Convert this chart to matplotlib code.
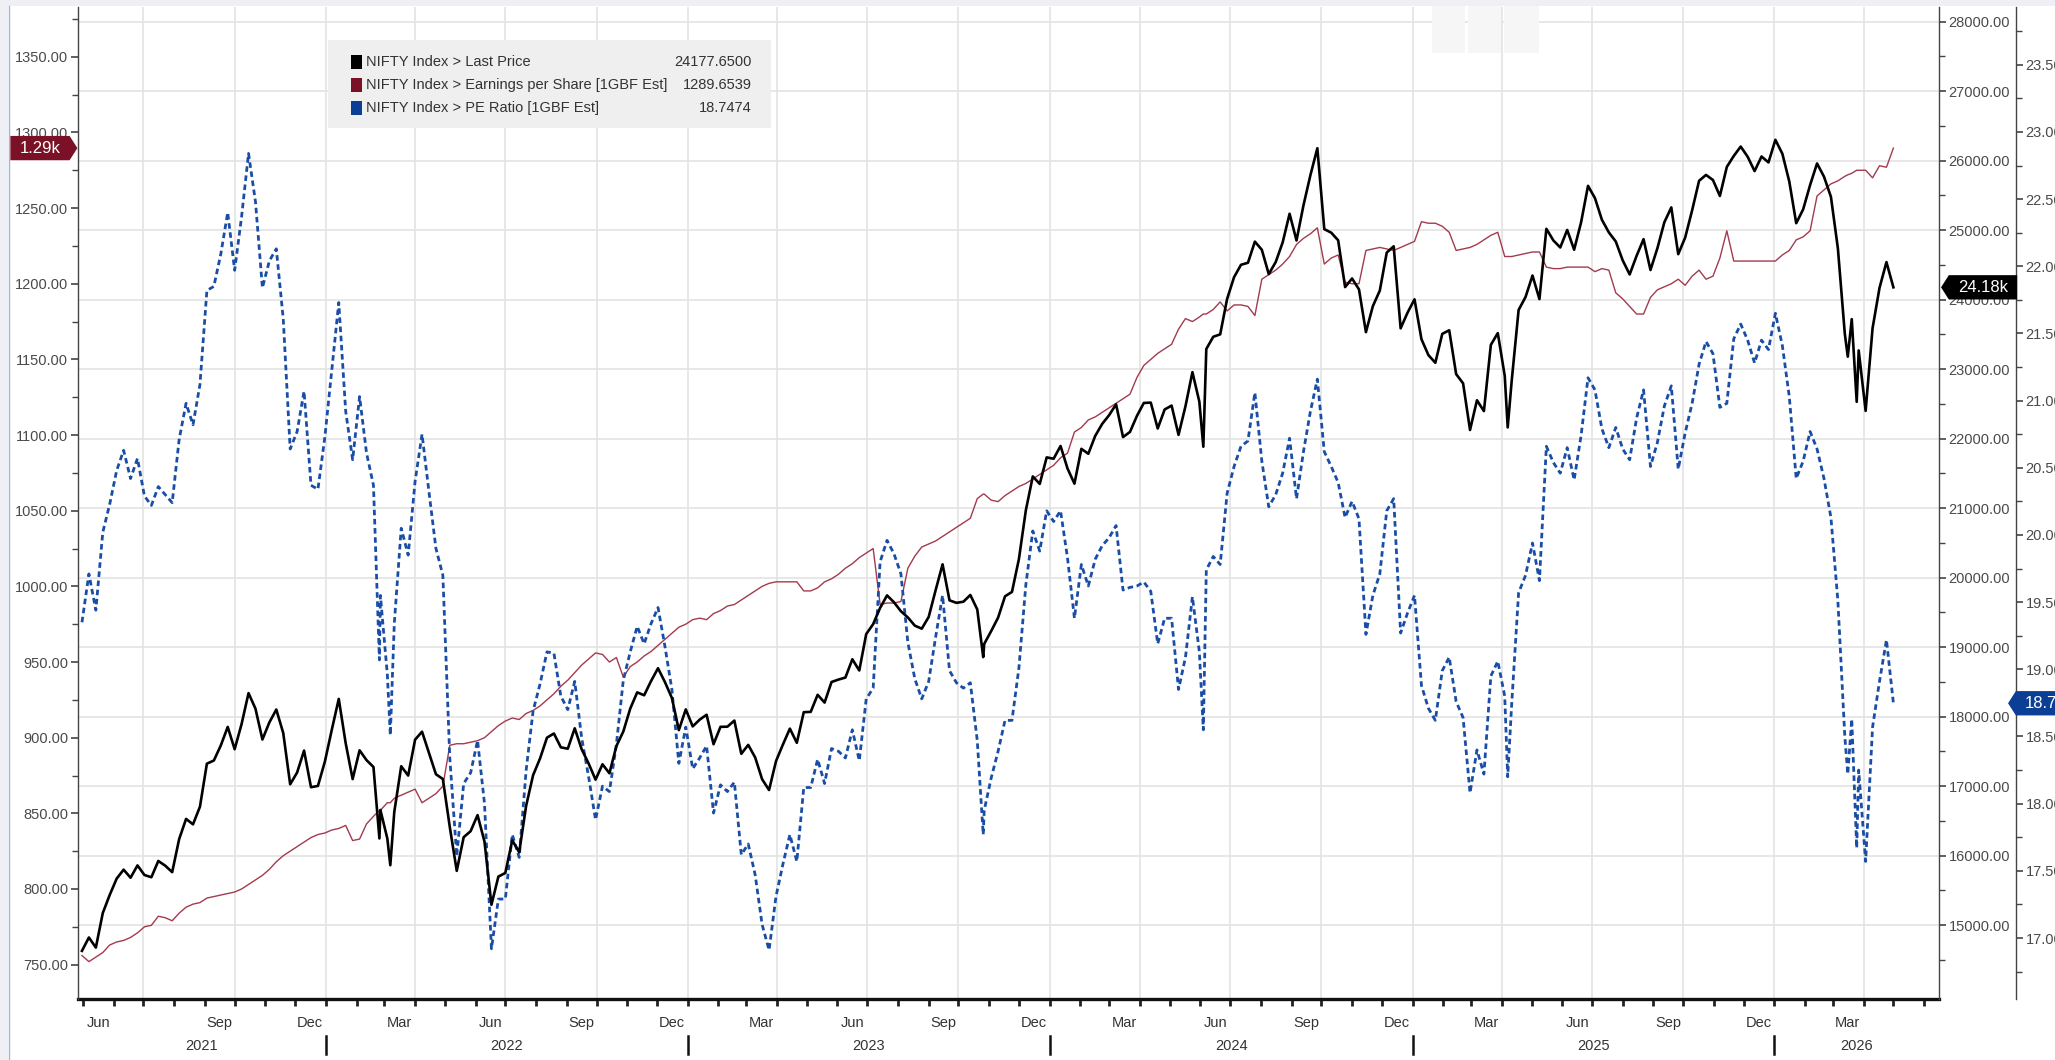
import numpy as np
import pandas as pd
import matplotlib
matplotlib.use("Agg")
import matplotlib.pyplot as plt
import matplotlib.dates as mdates
import matplotlib.ticker as mticker
from matplotlib import font_manager as fm
from matplotlib.patches import Rectangle
from matplotlib.path import Path
from matplotlib.lines import Line2D
from matplotlib.transforms import blended_transform_factory

# ---------------------------------------------------------------- data
week_start = "2021-04-30"   # weekly (Friday) observations

price_weekly = [
    14631, 14823, 14678, 15175, 15436, 15670, 15799, 15683, 15860, 15722,
    15690, 15924, 15856, 15763, 16238, 16529, 16451, 16705, 17324, 17369,
    17585, 17853, 17532, 17895, 18339, 18115, 17672, 17917, 18103, 17765,
    17027, 17197, 17512, 16985, 17004, 17354, 17813, 18256, 17617, 17102,
    17516, 17375, 17276, 16658, 16246, 16630, 17287, 17153, 17670, 17784,
    17476, 17172, 17103, 16411, 15782, 16266, 16353, 16584, 16202, 15294,
    15699, 15752, 16221, 16049, 16719, 17158, 17398, 17698, 17758, 17559,
    17539, 17833, 17531, 17327, 17094, 17315, 17186, 17576, 17787, 18117,
    18350, 18308, 18513, 18697, 18497, 18270, 17807, 18105, 17860, 17957,
    18028, 17604, 17854, 17856, 17944, 17466, 17594, 17413, 17100, 16945,
    17360, 17600, 17828, 17624, 18065, 18069, 18315, 18203, 18499, 18534,
    18563, 18826, 18665, 19189, 19332, 19565, 19745, 19646, 19517, 19428,
    19310, 19266, 19435, 19820, 20192, 19674, 19638, 19654, 19751, 19543,
    19047, 19231, 19425, 19732, 19795, 20268, 20970, 21457, 21349, 21731,
    21711, 21895, 21572, 21353, 21854, 21783, 22041, 22213, 22339, 22494,
    22023, 22097, 22327, 22514, 22519, 22147, 22420, 22476, 22055, 22467,
    22957, 22531, 23290, 23466, 23501, 24011, 24324, 24502, 24531, 24835,
    24718, 24368, 24541, 24823, 25236, 24852, 25357, 25791, 26179, 25015,
    24964, 24854, 24181, 24305, 24148, 23533, 23907, 24131, 24678, 24768,
    23588, 23814, 24005, 23432, 23203, 23092, 23508, 23560, 22929, 22796,
    22125, 22553, 22397, 23350, 23519, 22904, 22829, 23852, 24039, 24347,
    24008, 25020, 24853, 24751, 25003, 24719, 25112, 25638, 25461, 25150,
    24968, 24837, 24565, 24363, 24631, 24870, 24427, 24741, 25114, 25327,
    24655, 24894, 25285, 25710, 25795, 25722, 25492, 25910, 26068, 26203,
    26057, 25850, 26060, 25975, 26300, 26100, 25700, 25100, 25300, 25650,
    25960, 25770, 25480, 24740, 23510, 23720, 23270, 22400, 23590, 24170,
    24540, 24177.65,
]

eps_weekly = [
    756, 752, 755, 758, 763, 765, 766, 768, 771, 775,
    776, 782, 781, 779, 784, 788, 790, 791, 794, 795,
    796, 797, 798, 800, 803, 806, 809, 813, 818, 822,
    825, 828, 831, 834, 836, 837, 839, 840, 842, 832,
    833, 843, 848, 852, 857, 860, 862, 864, 866, 857,
    860, 863, 868, 895, 896, 896, 897, 898, 900, 904,
    908, 911, 913, 912, 916, 918, 921, 925, 929, 934,
    938, 943, 948, 952, 956, 955, 950, 953, 940, 947,
    950, 954, 957, 961, 965, 969, 973, 975, 978, 979,
    978, 982, 984, 987, 988, 991, 994, 997, 1000, 1002,
    1003, 1003, 1003, 1003, 997, 997, 999, 1003, 1005, 1008,
    1012, 1015, 1019, 1022, 1025, 988, 989, 989, 990, 1012,
    1020, 1026, 1028, 1030, 1033, 1036, 1039, 1042, 1045, 1058,
    1061, 1057, 1056, 1060, 1063, 1066, 1068, 1071, 1074, 1077,
    1080, 1085, 1088, 1102, 1105, 1110, 1112, 1115, 1118, 1121,
    1124, 1127, 1138, 1146, 1150, 1154, 1157, 1160, 1170, 1177,
    1175, 1178, 1180, 1183, 1188, 1182, 1186, 1186, 1185, 1179,
    1203, 1206, 1209, 1213, 1218, 1226, 1230, 1233, 1237, 1213,
    1217, 1219, 1201, 1200, 1200, 1222, 1223, 1224, 1223, 1222,
    1224, 1226, 1228, 1241, 1240, 1240, 1238, 1234, 1222, 1223,
    1224, 1226, 1229, 1232, 1234, 1218, 1218, 1219, 1220, 1221,
    1221, 1211, 1210, 1210, 1211, 1211, 1211, 1211, 1208, 1210,
    1209, 1194, 1190, 1185, 1180, 1180, 1191, 1196, 1198, 1200,
    1203, 1199, 1205, 1209, 1203, 1205, 1217, 1235, 1215, 1215,
    1215, 1215, 1215, 1215, 1215, 1219, 1222, 1229, 1231, 1235,
    1258, 1262, 1266, 1268, 1271, 1273, 1275, 1275, 1270, 1278,
    1277, 1289.6539,
]

pe_weekly = [
    19.35, 19.71, 19.44, 20.02, 20.23, 20.48, 20.63, 20.42, 20.57, 20.29,
    20.22, 20.36, 20.30, 20.24, 20.71, 20.98, 20.82, 21.12, 21.82, 21.85,
    22.09, 22.40, 21.97, 22.37, 22.84, 22.48, 21.84, 22.04, 22.13, 21.61,
    20.64, 20.77, 21.07, 20.37, 20.34, 20.73, 21.23, 21.73, 20.92, 20.56,
    21.03, 20.61, 20.37, 19.55, 18.96, 19.34, 20.05, 19.85, 20.40, 20.75,
    20.32, 19.90, 19.70, 18.34, 17.61, 18.15, 18.23, 18.47, 18.00, 16.92,
    17.29, 17.29, 17.77, 17.60, 18.25, 18.69, 18.89, 19.13, 19.12, 18.80,
    18.70, 18.91, 18.49, 18.20, 17.88, 18.13, 18.09, 18.44, 18.92, 19.13,
    19.32, 19.19, 19.34, 19.46, 19.17, 18.85, 18.30, 18.57, 18.26, 18.34,
    18.43, 17.93, 18.14, 18.09, 18.16, 17.62, 17.70, 17.47, 17.10, 16.91,
    17.31, 17.55, 17.77, 17.57, 18.12, 18.12, 18.33, 18.15, 18.41, 18.39,
    18.34, 18.55, 18.32, 18.78, 18.86, 19.80, 19.96, 19.86, 19.71, 19.20,
    18.93, 18.78, 18.91, 19.24, 19.55, 18.99, 18.90, 18.86, 18.90, 18.47,
    17.95, 18.19, 18.39, 18.62, 18.62, 19.01, 19.63, 20.03, 19.88, 20.18,
    20.10, 20.18, 19.83, 19.38, 19.78, 19.62, 19.82, 19.92, 19.98, 20.07,
    19.59, 19.61, 19.62, 19.65, 19.58, 19.19, 19.38, 19.38, 18.85, 19.09,
    19.54, 19.13, 19.74, 19.84, 19.78, 20.31, 20.51, 20.66, 20.70, 21.06,
    20.55, 20.21, 20.30, 20.46, 20.72, 20.27, 20.62, 20.92, 21.16, 20.62,
    20.51, 20.39, 20.13, 20.25, 20.12, 19.26, 19.55, 19.71, 20.18, 20.27,
    19.27, 19.42, 19.55, 18.88, 18.71, 18.62, 18.99, 19.09, 18.76, 18.64,
    18.08, 18.40, 18.22, 18.95, 19.06, 18.80, 18.74, 19.57, 19.70, 19.94,
    19.66, 20.66, 20.54, 20.46, 20.65, 20.41, 20.74, 21.17, 21.08, 20.79,
    20.65, 20.80, 20.64, 20.56, 20.87, 21.08, 20.51, 20.69, 20.96, 21.11,
    20.49, 20.76, 20.98, 21.27, 21.44, 21.35, 20.95, 20.98, 21.46, 21.57,
    21.45, 21.28, 21.45, 21.38, 21.65, 21.41, 21.03, 20.42, 20.55, 20.77,
    20.64, 20.42, 20.13, 19.51, 18.50, 18.63, 18.25, 17.57, 18.57, 18.91,
    19.22, 18.7474,
]

# a few intra-week extremes visible on the daily chart
extra_dates = ["2022-02-24", "2022-03-07", "2023-10-26", "2024-06-04",
               "2025-04-07", "2026-03-16", "2026-03-25"]
price_extra = [16248, 15863, 18857, 21884, 22162, 23180, 22530]
eps_extra = [852, 857, 1061, 1180, 1218, 1272, 1275]
pe_extra = [19.07, 18.51, 17.77, 18.55, 18.20, 18.22, 17.67]

series_names = ["NIFTY Index > Last Price",
                "NIFTY Index > Earnings per Share [1GBF Est]",
                "NIFTY Index > PE Ratio [1GBF Est]"]
price_ticks = list(range(15000, 28001, 1000))
eps_ticks = list(range(750, 1351, 50))
pe_ticks = [17.0, 17.5, 18.0, 18.5, 19.0, 19.5, 20.0, 20.5, 21.0, 21.5,
            22.0, 22.5, 23.0, 23.5]
month_label_names = ["Jun", "Sep", "Dec", "Mar", "Jun", "Sep", "Dec", "Mar",
                     "Jun", "Sep", "Dec", "Mar", "Jun", "Sep", "Dec", "Mar",
                     "Jun", "Sep", "Dec", "Mar"]
month_label_dates = ["2021-05-17", "2021-09-16", "2021-12-16", "2022-03-16",
                     "2022-06-16", "2022-09-16", "2022-12-16", "2023-03-16",
                     "2023-06-16", "2023-09-16", "2023-12-16", "2024-03-16",
                     "2024-06-16", "2024-09-16", "2024-12-16", "2025-03-16",
                     "2025-06-16", "2025-09-16", "2025-12-16", "2026-03-16"]
years = [2021, 2022, 2023, 2024, 2025, 2026]

# ---------------------------------------------------------------- table
dates_w = pd.date_range(week_start, periods=len(price_weekly), freq="W-FRI")
df = pd.DataFrame({
    "date": list(dates_w) + list(pd.to_datetime(extra_dates)),
    "price": price_weekly + price_extra,
    "eps": eps_weekly + eps_extra,
    "pe": pe_weekly + pe_extra,
}).sort_values("date").reset_index(drop=True)

# ---------------------------------------------------------------- fonts
_names = {f.name for f in fm.fontManager.ttflist}
if "Liberation Sans Narrow" in _names:
    FONT, FS = "Liberation Sans Narrow", 12.5
else:
    FONT, FS = "Liberation Sans", 10.5
plt.rcParams["font.family"] = [FONT, "DejaVu Sans"]

W, H = 2055, 1060
def fx(px):
    return px / W
def fy(py):
    return 1 - py / H

BLACK = "#000000"
RED = "#a33a4d"
RED_TAG = "#7b1126"
BLUE = "#1a4ea6"
BLUE_TAG = "#0b3f96"
GRID = "#e3e3e3"
TXT = "#4a4a4a"

fig = plt.figure(figsize=(W / 100, H / 100), dpi=100)
fig.patch.set_facecolor("white")

ax_bg = fig.add_axes([fx(78), fy(999), fx(1939) - fx(78), fy(7) - fy(999)])
ax_eps = ax_bg.twinx()
ax_pe = ax_bg.twinx()
ax_px = ax_bg.twinx()

xmin, xmax = pd.Timestamp("2021-04-26"), pd.Timestamp("2026-06-16")
PRICE_LIM = (13938, 28211)
EPS_LIM = (727.3, 1382.9)
PE_LIM = (16.546, 23.93)

for a in (ax_bg, ax_eps, ax_pe, ax_px):
    a.set_xlim(xmin, xmax)
    for s in a.spines.values():
        s.set_visible(False)

# background axes: grid + date axis
ax_bg.set_ylim(*PRICE_LIM)
ax_bg.set_yticks(price_ticks)
ax_bg.tick_params(axis="y", left=False, right=False, labelleft=False, labelright=False)
ax_bg.yaxis.grid(True, color=GRID, lw=1.2)
ax_bg.xaxis.set_major_locator(mdates.MonthLocator())
ax_bg.xaxis.set_minor_locator(mdates.MonthLocator(bymonth=[1, 4, 7, 10]))
ax_bg.xaxis.remove_overlapping_locs = False
ax_bg.xaxis.grid(True, which="minor", color=GRID, lw=1.2)
ax_bg.xaxis.grid(False, which="major")
ax_bg.tick_params(axis="x", which="major", length=5, width=2.0, color="#222222",
                  direction="out", labelbottom=False)
ax_bg.tick_params(axis="x", which="minor", length=0, labelbottom=False)
ax_bg.spines["bottom"].set_visible(True)
ax_bg.spines["bottom"].set_linewidth(2.4)
ax_bg.spines["bottom"].set_color("#111111")
ax_bg.set_axisbelow(True)

xt = ax_bg.get_xaxis_transform()
for name, d in zip(month_label_names, month_label_dates):
    ax_bg.text(pd.Timestamp(d), -0.024, name, transform=xt, ha="center", va="center",
               fontsize=FS, color="#333333")
for yr in years:
    a0 = max(pd.Timestamp(f"{yr}-01-01"), xmin)
    a1 = min(pd.Timestamp(f"{yr + 1}-01-01"), xmax)
    ax_bg.text(a0 + (a1 - a0) / 2, -0.047, str(yr), transform=xt, ha="center",
               va="center", fontsize=FS, color="#333333")
    if yr > 2021:
        ax_bg.add_line(Line2D([pd.Timestamp(f"{yr}-01-01")] * 2, [-0.037, -0.055],
                              transform=xt, color="#111111", lw=1.8, clip_on=False))

fmt2 = mticker.FormatStrFormatter("%.2f")

def style_y(a, side, ticks, minors, lim):
    a.set_ylim(*lim)
    a.yaxis.set_major_locator(mticker.FixedLocator(ticks))
    a.yaxis.set_minor_locator(mticker.FixedLocator(minors))
    a.yaxis.set_major_formatter(fmt2)
    if side == "left":
        a.yaxis.tick_left()
    else:
        a.yaxis.tick_right()
    a.spines[side].set_visible(True)
    a.spines[side].set_color("#444444")
    a.spines[side].set_linewidth(1.0)
    a.tick_params(axis="y", which="major", length=5, width=1.2, color="#444444",
                  labelsize=FS, labelcolor=TXT, pad=2)
    a.tick_params(axis="y", which="minor", length=4, width=1.0, color="#444444")

style_y(ax_eps, "left", eps_ticks, list(np.arange(775, 1400, 50)), EPS_LIM)
style_y(ax_px, "right", price_ticks, list(np.arange(14500, 28500, 1000)), PRICE_LIM)
style_y(ax_pe, "right", pe_ticks, list(np.arange(16.75, 24.0, 0.5)), PE_LIM)
ax_pe.spines["right"].set_position(("axes", 1 + 77 / 1861))

# ---------------------------------------------------------------- series
ax_eps.plot(df["date"], df["eps"], color=RED, lw=1.0, zorder=3)
ax_pe.plot(df["date"], df["pe"], color=BLUE, lw=2.0, dashes=(2.0, 1.3), zorder=3)
ax_px.plot(df["date"], df["price"], color=BLACK, lw=1.9, zorder=4)

# ---------------------------------------------------------------- tags
def _tag_path(x0, y0, width, height, ms, side):
    padx, pady = 0.55 * ms, 0.28 * ms
    x0, y0 = x0 - padx, y0 - pady
    x1, y1 = x0 + width + 2 * padx, y0 + height + 2 * pady
    tip = (y1 - y0) * 0.32
    ym = (y0 + y1) / 2
    if side == "right":
        pts = [(x0, y0), (x1, y0), (x1 + tip, ym), (x1, y1), (x0, y1), (x0, y0)]
    else:
        pts = [(x0, y0), (x1, y0), (x1, y1), (x0, y1), (x0 - tip, ym), (x0, y0)]
    return Path(pts, closed=True)

def tag_right(x0, y0, width, height, mutation_size):
    return _tag_path(x0, y0, width, height, mutation_size, "right")

def tag_left(x0, y0, width, height, mutation_size):
    return _tag_path(x0, y0, width, height, mutation_size, "left")

last_price = price_weekly[-1]
last_eps = eps_weekly[-1]
last_pe = pe_weekly[-1]
TAG_FS = FS + 1.5

fig.text(fx(40), last_eps, f"{last_eps / 1000:.2f}k",
         transform=blended_transform_factory(fig.transFigure, ax_eps.transData),
         ha="center", va="center", color="white", fontsize=TAG_FS, zorder=20,
         bbox=dict(boxstyle=tag_right, fc=RED_TAG, ec="none"))
fig.text(fx(1983), last_price, f"{last_price / 1000:.2f}k",
         transform=blended_transform_factory(fig.transFigure, ax_px.transData),
         ha="center", va="center", color="white", fontsize=TAG_FS, zorder=20,
         bbox=dict(boxstyle=tag_left, fc=BLACK, ec="none"))
fig.text(fx(2025), last_pe, f"{last_pe:.2f}",
         transform=blended_transform_factory(fig.transFigure, ax_pe.transData),
         ha="left", va="center", color="white", fontsize=TAG_FS, zorder=20,
         bbox=dict(boxstyle=tag_left, fc=BLUE_TAG, ec="none"))

# ---------------------------------------------------------------- legend box
fig.add_artist(Rectangle((fx(328), fy(128)), fx(771) - fx(328), fy(40) - fy(128),
                         transform=fig.transFigure, fc="#efefef", ec="none", zorder=10))
leg_vals = [f"{last_price:.4f}", f"{last_eps:.4f}", f"{last_pe:.4f}"]
leg_cols = [BLACK, RED_TAG, BLUE_TAG]
for i, (nm, val, col) in enumerate(zip(series_names, leg_vals, leg_cols)):
    yc = 62 + 23 * i
    fig.add_artist(Rectangle((fx(351), fy(yc + 7)), fx(362) - fx(351), fy(yc - 7) - fy(yc + 7),
                             transform=fig.transFigure, fc=col, ec="none", zorder=11))
    fig.text(fx(366), fy(yc), nm, ha="left", va="center", fontsize=FS,
             color="#333333", zorder=11)
    fig.text(fx(752), fy(yc), val, ha="right", va="center", fontsize=FS,
             color="#333333", zorder=11)

# ---------------------------------------------------------------- frame decorations
fig.add_artist(Rectangle((0, fy(6)), 1, 6 / H, transform=fig.transFigure,
                         fc="#eef0f5", ec="none", zorder=12))
fig.add_artist(Rectangle((0, 0), fx(8), 1, transform=fig.transFigure,
                         fc="#eef0f5", ec="none", zorder=12))
fig.add_artist(Line2D([fx(8.5), fx(8.5)], [0, fy(6)], transform=fig.transFigure,
                      color="#9db7de", lw=1.0, zorder=13))
for bx0, bx1 in [(1432, 1465), (1468, 1501), (1504, 1539)]:
    fig.add_artist(Rectangle((fx(bx0), fy(53)), fx(bx1) - fx(bx0), fy(6) - fy(53),
                             transform=fig.transFigure, fc="#f6f6f6", ec="none",
                             zorder=9))

fig.savefig("out.png", dpi=100, facecolor="white")
